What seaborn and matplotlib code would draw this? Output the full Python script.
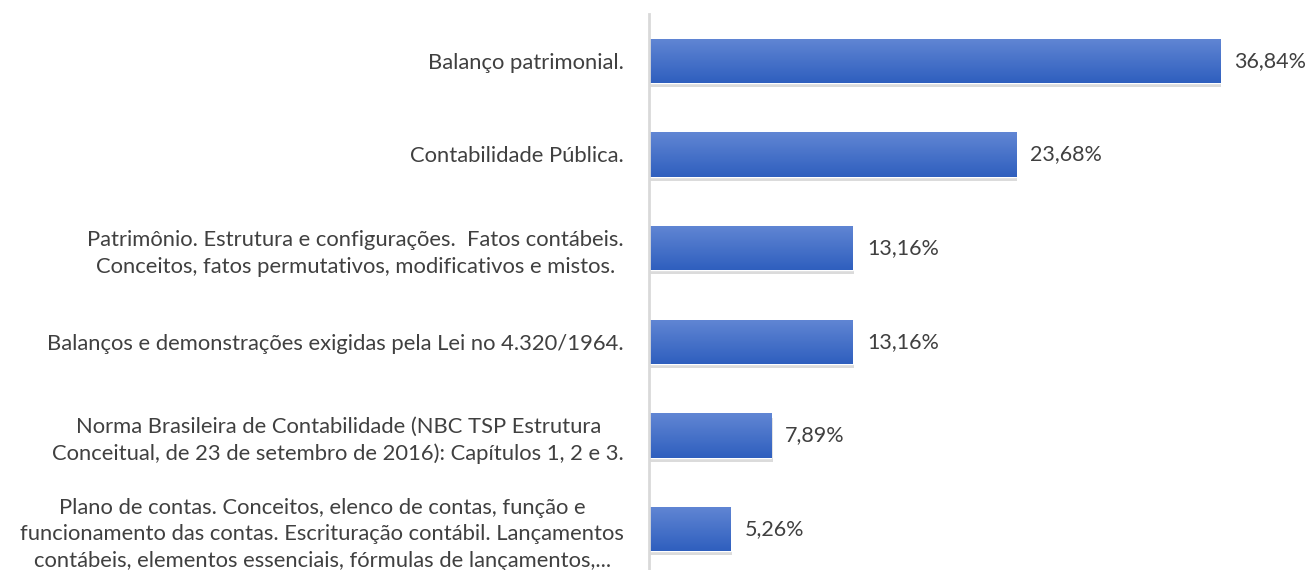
import numpy as np
import pandas as pd
import matplotlib
matplotlib.use("Agg")
import matplotlib.pyplot as plt
import matplotlib.patheffects as pe
from matplotlib.colors import LinearSegmentedColormap
import seaborn as sns

categorias = [
    "Balanço patrimonial.",
    "Contabilidade Pública.",
    "Patrimônio. Estrutura e configurações.  Fatos contábeis.\nConceitos, fatos permutativos, modificativos e mistos.",
    "Balanços e demonstrações exigidas pela Lei no 4.320/1964.",
    "Norma Brasileira de Contabilidade (NBC TSP Estrutura\nConceitual, de 23 de setembro de 2016): Capítulos 1, 2 e 3.",
    "Plano de contas. Conceitos, elenco de contas, função e\nfuncionamento das contas. Escrituração contábil. Lançamentos\ncontábeis, elementos essenciais, fórmulas de lançamentos,...",
]
valores = [36.84, 23.68, 13.16, 13.16, 7.89, 5.26]
rotulos = ["36,84%", "23,68%", "13,16%", "13,16%", "7,89%", "5,26%"]

df = pd.DataFrame({"categoria": categorias, "valor": valores})

sns.set_style("white")
plt.rcParams["font.family"] = ["Lato", "DejaVu Sans"]

fig = plt.figure(figsize=(13.08, 5.70), dpi=100)
ax = fig.add_axes([649 / 1308, -6 / 570, 620 / 1308, 562 / 570])

sns.barplot(data=df, x="valor", y="categoria", orient="h", color="#4472c4",
            width=0.47, saturation=1, ax=ax)

# gradiente vertical e sombra em cada barra
grad = LinearSegmentedColormap.from_list("g", ["#6186d4", "#2f5fbe"])
for bar in ax.patches:
    bar.set_path_effects([pe.SimplePatchShadow(offset=(1, -3), shadow_rgbFace="#000000", alpha=0.14), pe.Normal()])
    x0, y0 = bar.get_x(), bar.get_y()
    w, h = bar.get_width(), bar.get_height()
    img = ax.imshow(np.linspace(0, 1, 100).reshape(-1, 1), cmap=grad, aspect="auto",
                    extent=[x0, x0 + w, y0 + h, y0], origin="upper", zorder=bar.get_zorder() + 0.1)
    img.set_clip_path(bar)

ax.set_xlim(0, 40)
ax.set_ylim(5.5, -0.5)

for i, bar in enumerate(ax.patches):
    ax.text(bar.get_width() + 0.9, bar.get_y() + bar.get_height() / 2, rotulos[i],
            va="center", ha="left", fontsize=15.5, color="#404040")

ax.set_xlabel("")
ax.set_ylabel("")
ax.set_xticks([])
ax.tick_params(axis="y", length=0, pad=18, labelsize=15.8, labelcolor="#404040")
for lbl in ax.get_yticklabels():
    lbl.set_multialignment("center")
    lbl.set_linespacing(1.4)

for s in ["top", "right", "bottom"]:
    ax.spines[s].set_visible(False)
ax.spines["left"].set_color("#d9d9d9")
ax.spines["left"].set_linewidth(2)

fig.savefig("out.png", dpi=100)
